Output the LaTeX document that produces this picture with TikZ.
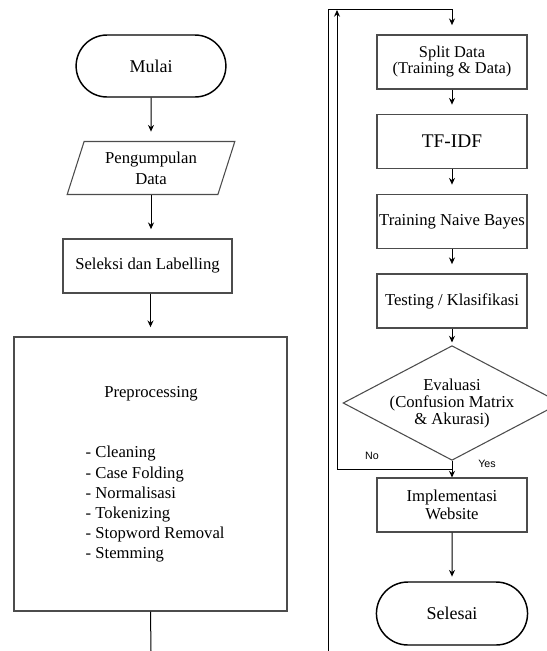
\documentclass[tikz,border=0pt]{standalone}
\usepackage{fontspec}
\setmainfont{Liberation Serif}
\newfontfamily\yesnofont{Liberation Sans}
\usetikzlibrary{shapes.geometric,shapes.misc,arrows.meta}

\begin{document}
\begin{tikzpicture}[x=0.75pt, y=-0.75pt,
  every node/.style={font=\fontsize{12.5}{15}\selectfont},
  terminal/.style={draw=black, line width=1.1pt, rounded rectangle, minimum width=119pt, minimum height=46.5pt, font=\fontsize{13.5}{16}\selectfont},
  procbox/.style={draw=black!70, line width=0.8pt, minimum width=112.5pt, minimum height=40.5pt, align=center, inner xsep=1pt},
  inputbox/.style={draw=black!70, line width=0.8pt, trapezium, trapezium left angle=73, trapezium right angle=107, trapezium stretches=true, minimum width=126.75pt, minimum height=39.75pt, align=center},
  decision/.style={draw=black!70, line width=0.8pt, diamond, aspect=1.9, minimum width=159pt, minimum height=84pt, inner sep=0pt, align=center},
  flow/.style={-{Stealth[length=5pt,width=4.5pt]}, line width=0.75pt, shorten >=7pt},
  answer/.style={font=\yesnofont\fontsize{8}{9}\selectfont}]

  \useasboundingbox (0,0) rectangle (547,651);
  \clip (0,0) rectangle (547,651);

  % left column
  \node[terminal] (mulai) at (151,66) {Mulai};
  \node[inputbox, font=\fontsize{12.5}{15.75}\selectfont] (kumpul) at (151,168) {Pengumpulan\\Data};
  \node[procbox, minimum width=126.75pt] (seleksi) at (147.5,266) {Seleksi dan Labelling};
  \node[draw=black!70, line width=0.8pt, minimum width=204.75pt, minimum height=205.5pt] (prepro) at (150.5,474) {};
  \node (preprotitle) at (151,394) {Preprocessing};
  \node[anchor=west, align=left, font=\fontsize{12.5}{15.15}\selectfont] (preprolist) at (81,504.5)
    {- Cleaning\\- Case Folding\\- Normalisasi\\- Tokenizing\\- Stopword Removal\\- Stemming};
  \coordinate (prepend) at (151,651);

  \draw[flow] (mulai) -- (kumpul);
  \draw[flow] (kumpul.south) -- (kumpul.south |- seleksi.north);
  \draw[flow] (seleksi.south -| prepro.north) -- (prepro.north);
  \draw[line width=0.75pt] (prepro.south) -- (prepend);

  % right column
  \node[procbox, font=\fontsize{12.3}{12}\selectfont] (split) at (452,62) {Split Data\\(Training \& Data)};
  \node[procbox, font=\fontsize{14.5}{16}\selectfont] (tfidf) at (452,141.5) {TF-IDF};
  \node[procbox] (train) at (452,221.5) {Training Naive Bayes};
  \node[procbox] (test) at (452,301) {Testing / Klasifikasi};
  \node[decision, font=\fontsize{12.5}{12.75}\selectfont] (eval) at (452,403) {Evaluasi\\(Confusion Matrix\\\& Akurasi)};
  \node[procbox, font=\fontsize{12.5}{13.5}\selectfont] (impl) at (452,505) {Implementasi\\Website};
  \node[terminal, minimum width=120pt, minimum height=47.25pt] (selesai) at (452,613.5) {Selesai};

  \coordinate (cont) at (328,651);
  \coordinate (top) at (328,9);
  \coordinate (nojoin) at (452,469);
  \coordinate (noleft) at (337,469);
  \coordinate (noup) at (337,10);

  \draw[flow] (cont) -- (top) -| (split.north);
  \draw[flow] (split) -- (tfidf);
  \draw[flow] (tfidf) -- (train);
  \draw[flow] (train) -- (test);
  \draw[flow, shorten >=2pt] (test) -- (eval);
  \draw[flow, shorten >=0pt] (eval.south) -- (impl.north);
  \draw[flow, shorten >=3.5pt] (impl) -- (selesai);
  \draw[flow, shorten >=0pt] (nojoin) -- (noleft) -- (noup);

  \node[answer] (nolabel) at (372,456) {No};
  \node[answer] (yeslabel) at (487,464) {Yes};

\end{tikzpicture}
\end{document}
